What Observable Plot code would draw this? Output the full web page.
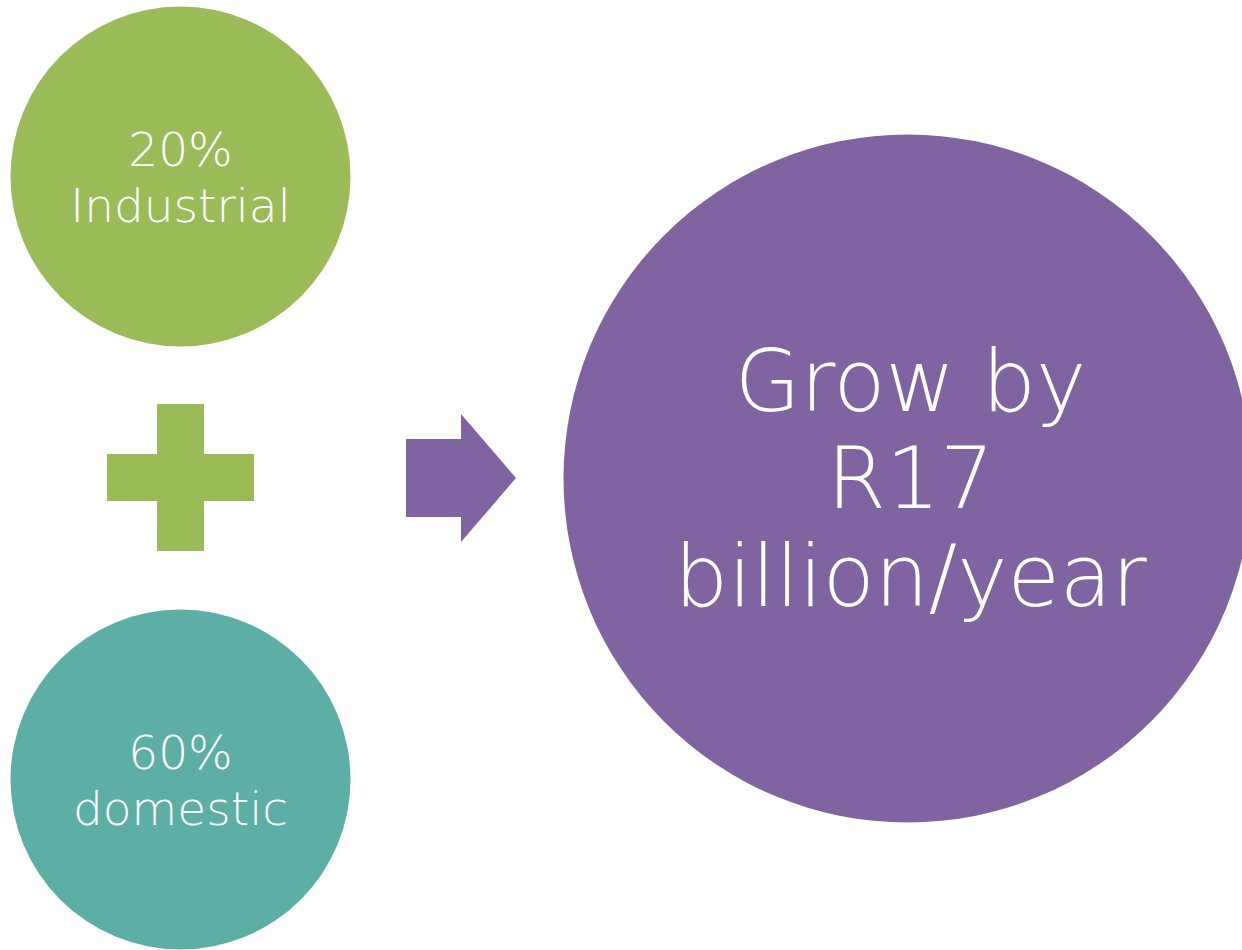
<!DOCTYPE html>
<html>
<head>
<meta charset="utf-8">
<script src="https://cdn.jsdelivr.net/npm/d3@7"></script>
<script src="https://cdn.jsdelivr.net/npm/@observablehq/plot@0.6"></script>
<style>
  html, body { margin: 0; padding: 0; background: #fff; }
  #chart svg { display: block; }
</style>
</head>
<body>
<div id="chart"></div>
<script>
// ---- data ----
const sectors = ["Industrial", "domestic"];
const shares = [20, 60];
const sectorColors = ["#9BBB59", "#5DAFA5"];
const growthLines = ["Grow by", "R17", "billion/year"];
const growthColor = "#8064A2";

// ---- layout (code, not data) ----
const W = 1242, H = 950;
const font = "DejaVu Sans";
const small = {cx: 180, r: 170, cys: [176, 779]};
const big = {cx: 907, cy: 478, r: 344};

const sectorNodes = sectors.map((s, i) => ({
  name: s, share: shares[i], color: sectorColors[i],
  x: small.cx, y: small.cys[i]
}));
const sectorText = sectorNodes.flatMap(d => [
  {x: d.x, y: d.y - 11, t: `${d.share}%`},
  {x: d.x, y: d.y + 45, t: d.name}
]);
const growthText = growthLines.map((t, i) => ({x: big.cx + 3, y: 410 + i * 97.5, t}));

// plus sign
const plus = {cx: 180.5, cy: 477.5, arm: 73.5, half: 23.5};
const plusRects = [
  {x1: plus.cx - plus.half, x2: plus.cx + plus.half, y1: plus.cy - plus.arm, y2: plus.cy + plus.arm},
  {x1: plus.cx - plus.arm, x2: plus.cx + plus.arm, y1: plus.cy - plus.half, y2: plus.cy + plus.half}
];
// arrow
const arr = {x0: 406, xm: 461, tip: 516, cy: 478, shaft: 39, head: 64};
const arrowShaft = [{x1: arr.x0, x2: arr.xm + 0.5, y1: arr.cy - arr.shaft, y2: arr.cy + arr.shaft}];
const arrowHead = [
  {x: arr.xm, y1: arr.cy - arr.head, y2: arr.cy + arr.head},
  {x: arr.tip, y1: arr.cy, y2: arr.cy}
];

const chart = Plot.plot({
  width: W, height: H,
  margin: 0,
  x: {domain: [0, W], range: [0, W], axis: null},
  y: {domain: [0, H], range: [0, H], axis: null},
  style: {background: "#fff", fontFamily: font},
  marks: [
    Plot.dot(sectorNodes, {x: "x", y: "y", r: small.r, fill: "color", stroke: null}),
    Plot.dot([big], {x: "cx", y: "cy", r: big.r, fill: growthColor, stroke: null}),
    Plot.rect(plusRects, {x1: "x1", x2: "x2", y1: "y1", y2: "y2", fill: sectorColors[0]}),
    Plot.rect(arrowShaft, {x1: "x1", x2: "x2", y1: "y1", y2: "y2", fill: growthColor}),
    Plot.area(arrowHead, {x1: "x", y1: "y1", y2: "y2", fill: growthColor, curve: "linear"}),
    Plot.text(sectorText, {x: "x", y: "y", text: "t", fill: "white", fontSize: 47, fontWeight: 200, lineAnchor: "bottom", textAnchor: "middle"}),
    Plot.text(growthText, {x: "x", y: "y", text: "t", fill: "white", fontSize: 85, fontWeight: 200, lineAnchor: "bottom", textAnchor: "middle"})
  ]
});
document.getElementById("chart").appendChild(chart);
</script>
</body>
</html>
